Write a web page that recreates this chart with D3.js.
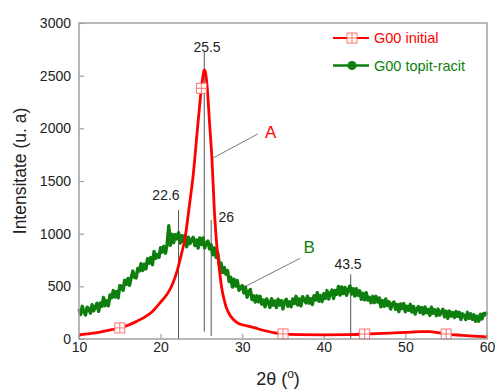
<!DOCTYPE html>
<html>
<head>
<meta charset="utf-8">
<script src="https://cdn.jsdelivr.net/npm/d3@7"></script>
<style>
  body { margin: 0; background: #fff; }
  svg { display: block; font-family: Arial, "Liberation Sans", sans-serif; }
</style>
</head>
<body>
<div id="chart"></div>
<script>
// XRD patterns: G00 initial (red) vs. G00 topit-racit (green)

var xTicks = [10, 20, 30, 40, 50, 60];
var yTicks = [0, 500, 1000, 1500, 2000, 2500, 3000];

// G00 initial, smooth curve
var redX = [10, 11, 12, 13, 14, 15, 16, 17, 18, 19, 20, 20.5, 21, 21.5, 22, 22.5, 23, 23.5, 24, 24.5,
            25, 25.2, 25.35, 25.5, 25.7, 26, 26.3, 26.6, 26.9, 27.2, 27.5, 27.8, 28, 28.3, 28.6, 29, 29.5, 30,
            31, 32, 33, 34, 35, 37, 40, 43, 45, 48, 50, 52, 53, 54, 55, 57, 59, 60];
var redY = [38, 48, 58, 72, 88, 105, 130, 165, 205, 262, 350, 395, 450, 530, 640, 790, 960, 1250, 1560, 1980,
            2380, 2500, 2555, 2530, 2400, 2050, 1700, 1200, 880, 660, 480, 370, 310, 255, 215, 180, 150, 135,
            117, 95, 75, 58, 48, 42, 40, 42, 47, 55, 62, 70, 70, 60, 47, 35, 25, 20];
var redMarkX = [15, 25, 35, 45, 55];
var redMarkY = [105, 2380, 48, 47, 47];

// G00 topit-racit, noisy scan, one value every 0.2 deg from 10 to 60
var greenStart = 10, greenStep = 0.2;
var greenY = [
  285, 232, 310, 258, 228, 302, 283, 245, 325, 268,
  305, 340, 263, 341, 310, 395, 316, 363, 315, 418,
  392, 460, 398, 452, 391, 506, 501, 461, 557, 518,
  575, 510, 585, 645, 585, 580, 670, 645, 715, 650,
  710, 665, 762, 720, 773, 705, 832, 765, 802, 775,
  867, 825, 880, 815, 900, 1075, 890, 995, 915, 990,
  950, 1010, 910, 980, 925, 985, 875, 967, 905, 943,
  965, 887, 940, 863, 960, 897, 960, 865, 910, 930,
  855, 895, 800, 865, 775, 820, 700, 720, 630, 680,
  615, 650, 545, 585, 493, 567, 503, 555, 463, 487,
  507, 437, 492, 397, 447, 470, 375, 410, 350, 410,
  352, 405, 330, 370, 305, 381, 348, 300, 383, 321,
  360, 299, 378, 323, 364, 285, 356, 378, 310, 353,
  306, 379, 337, 405, 323, 381, 314, 402, 375, 343,
  407, 340, 383, 327, 411, 370, 439, 358, 412, 356,
  430, 385, 460, 380, 430, 465, 385, 460, 425, 499,
  417, 495, 432, 489, 415, 470, 504, 427, 478, 408,
  477, 415, 458, 376, 434, 372, 441, 370, 395, 345,
  405, 345, 405, 350, 390, 305, 365, 310, 381, 317,
  353, 284, 335, 351, 282, 328, 260, 332, 289, 336,
  258, 310, 272, 329, 256, 309, 237, 285, 308, 251,
  299, 237, 305, 248, 281, 224, 302, 245, 278, 221,
  284, 227, 255, 283, 211, 264, 197, 265, 218, 251,
  204, 262, 215, 253, 186, 239, 222, 185, 253, 196,
  239, 187, 230, 168, 216, 169, 236, 191, 243, 231,
  255
];

// peak markers: where the line sits, its label, and the line's data extent
var peakX     = [22.2, 25.35, 26.2, 43.3];
var peakLabel = ['22.6', '25.5', '26', '43.5'];
var peakTop   = [1224, 2727, 1130, 614];
var peakBot   = [0, 69, 28, 0];
var labelX    = [20.66, 25.69, 27.1, 42.97];
var labelY    = [1367, 2774, 1159, 712];

var width = 495, height = 390;
var margin = { top: 23, right: 8, bottom: 51, left: 79 };
var innerW = width - margin.left - margin.right;
var innerH = height - margin.top - margin.bottom;

var red = '#ff0000', green = '#0e7f0e', frameCol = '#a0a0a0';

var svg = d3.select('#chart').append('svg')
    .attr('width', width)
    .attr('height', height);

var g = svg.append('g').attr('transform', 'translate(' + margin.left + ',' + margin.top + ')');

var x = d3.scaleLinear().domain([10, 60]).range([0, innerW]);
var y = d3.scaleLinear().domain([0, 3000]).range([innerH, 0]);

// --- axes (ticks point inward) ---
var xAxis = g.append('g')
    .attr('transform', 'translate(0,' + innerH + ')')
    .call(d3.axisBottom(x).tickValues(xTicks).tickFormat(d3.format('d')).tickSize(-5).tickPadding(3));
var yAxis = g.append('g')
    .call(d3.axisLeft(y).tickValues(yTicks).tickFormat(d3.format('d')).tickSize(-5).tickPadding(8));
[xAxis, yAxis].forEach(function (a) {
    a.select('.domain').remove();
    a.selectAll('line').attr('stroke', frameCol).attr('stroke-width', 1.2);
    a.selectAll('text').attr('font-size', '14px').attr('fill', '#222')
        .attr('font-family', 'Arial, "Liberation Sans", sans-serif');
});

// --- peak lines + labels ---
peakX.forEach(function (px, i) {
    g.append('line')
        .attr('x1', x(px)).attr('x2', x(px))
        .attr('y1', y(peakTop[i])).attr('y2', y(peakBot[i]))
        .attr('stroke', '#555').attr('stroke-width', 1);
});
peakLabel.forEach(function (t, i) {
    g.append('text')
        .attr('x', x(labelX[i])).attr('y', y(labelY[i]))
        .attr('text-anchor', i === 2 ? 'start' : 'middle')
        .attr('dy', '0.35em')
        .attr('font-size', '14px').attr('fill', '#222')
        .text(t);
});

// --- green series ---
var greenPts = greenY.map(function (v, i) { return [greenStart + i * greenStep, v]; });
g.append('path')
    .datum(greenPts)
    .attr('fill', 'none')
    .attr('stroke', green)
    .attr('stroke-width', 3.4)
    .attr('stroke-linejoin', 'round')
    .attr('d', d3.line().x(function (d) { return x(d[0]); }).y(function (d) { return y(d[1]); }));

// --- red series ---
var redPts = redX.map(function (v, i) { return [v, redY[i]]; });
g.append('path')
    .datum(redPts)
    .attr('fill', 'none')
    .attr('stroke', red)
    .attr('stroke-width', 2.8)
    .attr('d', d3.line().curve(d3.curveMonotoneX)
        .x(function (d) { return x(d[0]); }).y(function (d) { return y(d[1]); }));

function gridSquare(sel, cx, cy) {
    var s = 5;
    var m = sel.append('g').attr('transform', 'translate(' + cx + ',' + cy + ')');
    m.append('rect').attr('x', -s).attr('y', -s).attr('width', 2 * s).attr('height', 2 * s)
        .attr('fill', '#fff').attr('stroke', '#ff7070').attr('stroke-width', 1);
    m.append('line').attr('x1', 0).attr('x2', 0).attr('y1', -s).attr('y2', s)
        .attr('stroke', '#ff7070').attr('stroke-width', 1);
    m.append('line').attr('x1', -s).attr('x2', s).attr('y1', 0).attr('y2', 0)
        .attr('stroke', '#ff7070').attr('stroke-width', 1);
}
redMarkX.forEach(function (mx, i) { gridSquare(g, x(mx), y(redMarkY[i])); });

// --- A / B callouts ---
var callouts = [
    { from: [26.42, 1718], to: [31.9, 1946], label: 'A', at: [33.5, 1968], color: red },
    { from: [30.34, 497], to: [37.1, 766], label: 'B', at: [38.2, 876], color: green }
];
callouts.forEach(function (c) {
    g.append('line')
        .attr('x1', x(c.from[0])).attr('y1', y(c.from[1]))
        .attr('x2', x(c.to[0])).attr('y2', y(c.to[1]))
        .attr('stroke', '#555').attr('stroke-width', 0.8);
    g.append('text')
        .attr('x', x(c.at[0])).attr('y', y(c.at[1]))
        .attr('text-anchor', 'middle').attr('dy', '0.36em')
        .attr('font-size', '17px').attr('fill', c.color)
        .text(c.label);
});

// --- frame ---
g.append('rect')
    .attr('width', innerW).attr('height', innerH)
    .attr('fill', 'none').attr('stroke', frameCol).attr('stroke-width', 1.5);

// --- legend ---
var legend = g.append('g').attr('transform', 'translate(' + (333 - margin.left) + ',' + (38 - margin.top) + ')');
legend.append('line').attr('x1', 0).attr('x2', 36).attr('y1', 0).attr('y2', 0)
    .attr('stroke', red).attr('stroke-width', 2);
gridSquare(legend, 19, 0);
legend.append('text').attr('x', 41).attr('y', 0).attr('dy', '0.35em')
    .attr('font-size', '14.5px').attr('fill', red).text('G00 initial');
legend.append('line').attr('x1', 0).attr('x2', 36).attr('y1', 27.5).attr('y2', 27.5)
    .attr('stroke', green).attr('stroke-width', 2.5);
legend.append('circle').attr('cx', 19).attr('cy', 27.5).attr('r', 4.5).attr('fill', green);
legend.append('text').attr('x', 41).attr('y', 27.5).attr('dy', '0.35em')
    .attr('font-size', '14.5px').attr('fill', green).text('G00 topit-racit');

// --- axis titles ---
var xt = svg.append('text')
    .attr('x', 278).attr('y', 385)
    .attr('text-anchor', 'middle')
    .attr('font-size', '18px').attr('fill', '#222');
xt.append('tspan').text('2θ (');
xt.append('tspan').attr('font-size', '12px').attr('dy', '-7').text('o');
xt.append('tspan').attr('dy', '7').text(')');

svg.append('text')
    .attr('transform', 'translate(20,171) rotate(-90)')
    .attr('text-anchor', 'middle').attr('dy', '0.35em')
    .attr('font-size', '17.5px').attr('fill', '#222')
    .text('Intensitate (u. a)');
</script>
</body>
</html>
